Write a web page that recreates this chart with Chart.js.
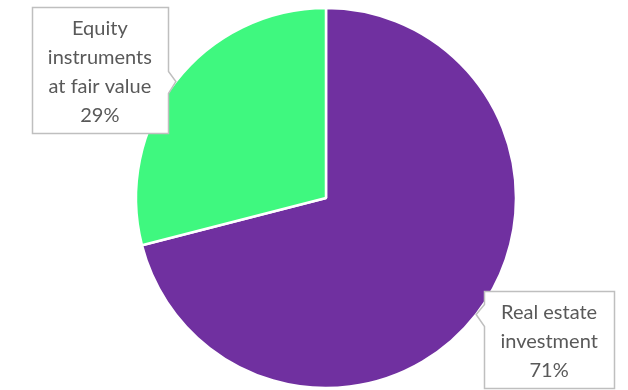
<!DOCTYPE html>
<html>
<head>
<meta charset="utf-8">
<script src="https://cdn.jsdelivr.net/npm/chart.js@4"></script>
<style>
  html, body { margin: 0; padding: 0; background: #fff; }
  #wrap { width: 628px; height: 390px; position: relative; }
</style>
</head>
<body>
<div id="wrap"><canvas id="pie"></canvas></div>
<script>
// ── DATA ─────────────────────────────────────────
const CATEGORIES = ["Real estate investment", "Equity instruments at fair value"];
const SHARES     = [71, 29];
const COLORS     = ["#7030A0", "#3FF87F"];
// label text lines, drawn in callout boxes
const LABEL_LINES = [
  ["Real estate", "investment", "71%"],
  ["Equity", "instruments", "at fair value", "29%"],
];
// box centre offset from the callout tip (slice outer mid point)
const LABEL_OFFSET = [[73, 25], [-76, -12]];

// ── CALLOUT LABEL PLUGIN ─────────────────────────
const calloutLabels = {
  id: "calloutLabels",
  afterDatasetsDraw(chart) {
    const ctx = chart.ctx;
    const arcs = chart.getDatasetMeta(0).data;
    ctx.save();
    ctx.font = "20px Lato, 'Open Sans', sans-serif";
    const lineH = 29;
    arcs.forEach((arc, i) => {
      const p = arc.getProps(["x", "y", "startAngle", "endAngle", "outerRadius"], true);
      const mid = (p.startAngle + p.endAngle) / 2;
      const tipX = p.x + Math.cos(mid) * p.outerRadius;
      const tipY = p.y + Math.sin(mid) * p.outerRadius;
      const lines = LABEL_LINES[i];
      const w = Math.max(...lines.map(l => ctx.measureText(l).width)) + 32;
      const h = lines.length * lineH + 10;
      const cx = tipX + LABEL_OFFSET[i][0];
      const cy = tipY + LABEL_OFFSET[i][1];
      const l = Math.round(cx - w / 2) + 0.5, r = Math.round(cx + w / 2) + 0.5;
      const t = Math.round(cy - h / 2) + 0.5, b = Math.round(cy + h / 2) + 0.5;
      const baseY0 = Math.max(t + 4, tipY - 10), baseY1 = Math.min(b - 4, tipY + 12);

      ctx.beginPath();
      ctx.moveTo(l, t);
      ctx.lineTo(r, t);
      if (cx < tipX) {
        ctx.lineTo(r, baseY0);
        ctx.lineTo(tipX, tipY);
        ctx.lineTo(r, baseY1);
      }
      ctx.lineTo(r, b);
      ctx.lineTo(l, b);
      if (cx > tipX) {
        ctx.lineTo(l, baseY1);
        ctx.lineTo(tipX, tipY);
        ctx.lineTo(l, baseY0);
      }
      ctx.closePath();
      ctx.fillStyle = "#ffffff";
      ctx.fill();
      ctx.strokeStyle = "#bfbfbf";
      ctx.lineWidth = 1.5;
      ctx.stroke();

      ctx.fillStyle = "#595959";
      ctx.textAlign = "center";
      ctx.textBaseline = "alphabetic";
      lines.forEach((txt, k) => {
        ctx.fillText(txt, cx, t + 27 + lineH * k);
      });
    });
    ctx.restore();
  }
};

// ── PIE CHART ────────────────────────────────────
function buildPie() {
  const ctx = document.getElementById("pie").getContext("2d");
  new Chart(ctx, {
    type: "pie",
    data: {
      labels: CATEGORIES,
      datasets: [{
        data: SHARES,
        backgroundColor: COLORS,
        borderColor: "#ffffff",
        borderWidth: 2.5,
      }],
    },
    options: {
      responsive: true,
      maintainAspectRatio: false,
      animation: false,
      radius: 190,
      layout: { padding: { left: 24, top: 6, right: 0, bottom: 0 } },
      plugins: {
        legend: { display: false },
        tooltip: { enabled: false },
      },
    },
    plugins: [calloutLabels],
  });
}

buildPie();
</script>
</body>
</html>
